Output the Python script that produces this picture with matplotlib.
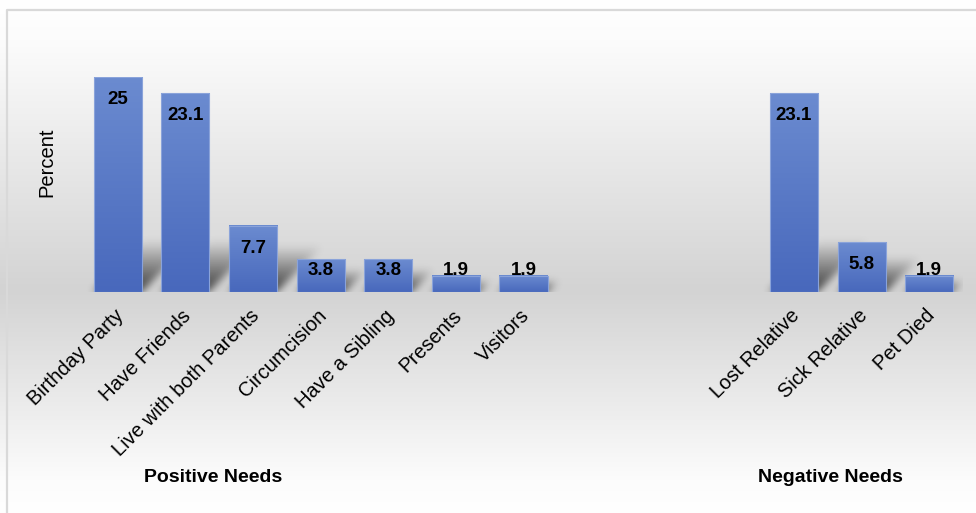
import numpy as np
import matplotlib
matplotlib.use('Agg')
import matplotlib.pyplot as plt
from matplotlib.patches import Rectangle
from matplotlib.colors import LinearSegmentedColormap
import matplotlib.transforms as mtransforms

plt.rcParams['font.family'] = ['Liberation Sans', 'DejaVu Sans']

# ---------------- data ----------------
positive_labels = ["Birthday Party", "Have Friends", "Live with both Parents",
                   "Circumcision", "Have a Sibling", "Presents", "Visitors"]
positive_values = [25, 23.1, 7.7, 3.8, 3.8, 1.9, 1.9]
negative_labels = ["Lost Relative", "Sick Relative", "Pet Died"]
negative_values = [23.1, 5.8, 1.9]
group_labels = ["Positive Needs", "Negative Needs"]
y_label = "Percent"

W, H = 976, 513
fig = plt.figure(figsize=(W / 100, H / 100), dpi=100)

# ---------------- background gradient + border ----------------
bg = fig.add_axes([0, 0, 1, 1], zorder=0)
ys = np.arange(H)
g = np.interp(ys, [0, 40, 290, 480, 513], [255, 252, 211, 252, 255]) / 255.0
img = np.repeat(g[:, None], 2, axis=1)
bg.imshow(np.dstack([img, img, img]), extent=[0, W, H, 0], aspect='auto',
          interpolation='bilinear')
bg.plot([7, 7, W + 5], [H + 5, 10, 10], color='#d9d9d9', lw=1.6)
bg.set_xlim(0, W)
bg.set_ylim(H, 0)
bg.axis('off')

# ---------------- main axes ----------------
AXW, AXH = 879, 215
ax = fig.add_axes([84 / W, (H - 292) / H, AXW / W, AXH / H], zorder=1)
ax.patch.set_alpha(0)
for s in ax.spines.values():
    s.set_visible(False)

gap = 3
pos = list(range(len(positive_values))) + \
      [len(positive_values) + gap + i for i in range(len(negative_values))]
values = positive_values + negative_values
labels = positive_labels + negative_labels

xmin, xmax = -0.5, pos[-1] + 0.5
ymax = 25
ax.set_xlim(xmin, xmax)
ax.set_ylim(0, ymax)
ax.set_yticks([])

bar_w = 0.71
bar_cmap = LinearSegmentedColormap.from_list('barg', ['#4868bc', '#6b8bd0'])
grad = np.linspace(0, 1, 256)[:, None]

# pixel scales of the data axes
px_x = AXW / (xmax - xmin)
px_y = AXH / ymax

# ---- soft perspective shadows (blurred image) ----
mask = np.zeros((AXH, AXW))
for x, v in zip(pos, values):
    hpx = v * px_y
    bx0 = (x - bar_w / 2 - xmin) * px_x
    bx1 = (x + bar_w / 2 - xmin) * px_x
    hs = min(0.7 * hpx, 52)
    for r in range(int(hs)):
        c0 = int(round(bx0 + r * 1.0))
        c1 = int(round(bx1 + r * 1.0))
        row = AXH - 1 - r
        mask[row, max(c0, 0):min(c1, AXW)] = np.maximum(
            mask[row, max(c0, 0):min(c1, AXW)], 1 - r / hs)
sig = 4.0
k = np.arange(-12, 13)
ker = np.exp(-k ** 2 / (2 * sig ** 2))
ker /= ker.sum()
mask = np.apply_along_axis(lambda m: np.convolve(m, ker, mode='same'), 1, mask)
mask = np.apply_along_axis(lambda m: np.convolve(m, ker, mode='same'), 0, mask)
shadow = np.zeros((AXH, AXW, 4))
shadow[..., 3] = np.clip(mask * 1.2, 0, 1) * 0.6
ax.imshow(shadow, extent=[xmin, xmax, 0, ymax], origin='upper', aspect='auto',
          zorder=2, interpolation='bilinear')

# bars
for x, v in zip(pos, values):
    ax.imshow(grad, extent=[x - bar_w / 2, x + bar_w / 2, 0, v], origin='lower',
              cmap=bar_cmap, aspect='auto', zorder=3, interpolation='bilinear')
    ax.add_patch(Rectangle((x - bar_w / 2, 0), bar_w, v, facecolor='none',
                           edgecolor='#8aa3da', lw=0.8, zorder=4))
    ax.text(x, max(v - 2.6, 2.5), f"{v:g}", ha='center', va='center',
            fontsize=13.5, fontweight='bold', color='black', zorder=5)

ax.set_xlim(xmin, xmax)
ax.set_ylim(0, ymax)

ax.set_xticks(pos)
ax.set_xticklabels(labels, rotation=45, ha='right', va='center',
                   rotation_mode='anchor', fontsize=14.5)
ax.tick_params(axis='x', length=0, pad=15)
off = mtransforms.ScaledTranslation(3 / 100, 0, fig.dpi_scale_trans)
for lab in ax.get_xticklabels():
    lab.set_transform(lab.get_transform() + off)

# group labels and y label
fig.text(213 / W, 1 - 477 / H, group_labels[0], ha='center', va='center',
         fontsize=14, fontweight='bold')
fig.text(830 / W, 1 - 477 / H, group_labels[1], ha='center', va='center',
         fontsize=14, fontweight='bold')
fig.text(47 / W, 1 - 162 / H, y_label, rotation=90, ha='center', va='center',
         fontsize=14.5)

fig.savefig('out.png', dpi=100)
